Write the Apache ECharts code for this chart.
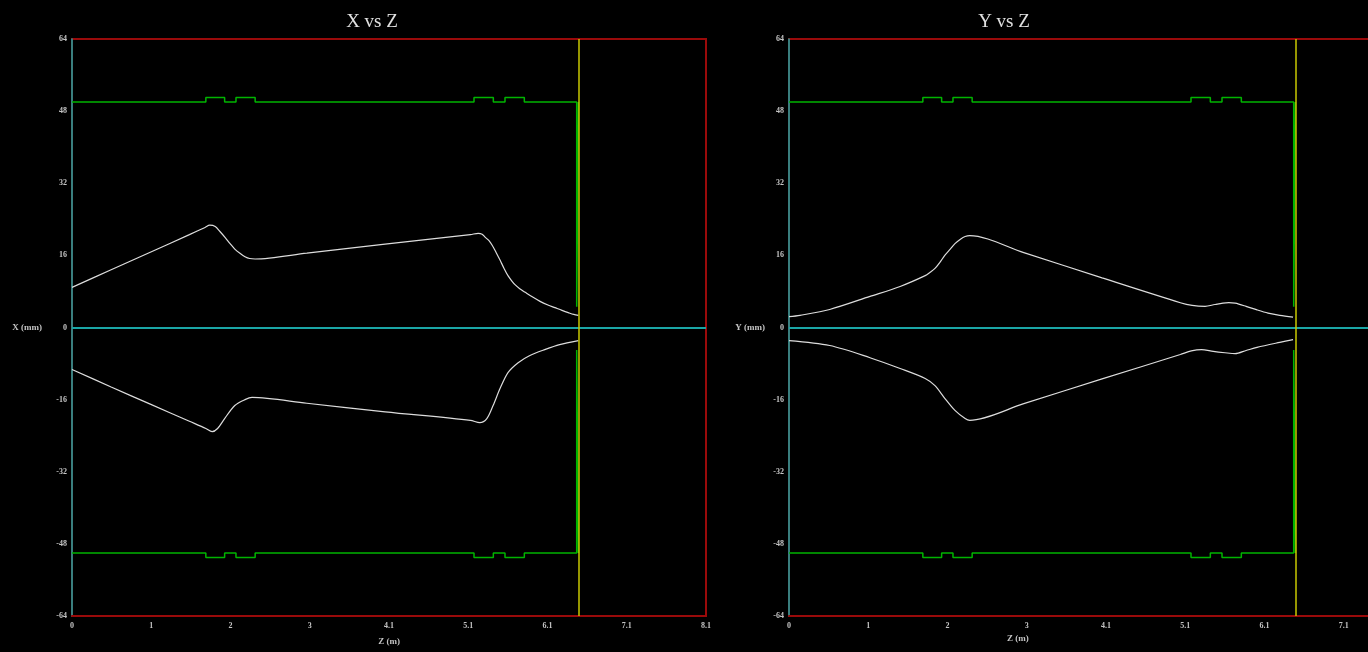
<!DOCTYPE html>
<html>
<head>
<meta charset="utf-8">
<script src="https://cdn.jsdelivr.net/npm/echarts@6/dist/echarts.min.js"></script>
<style>
html,body{margin:0;padding:0;background:#000;}
#chart{width:1368px;height:652px;}
</style>
</head>
<body>
<div id="chart"></div>
<script>
// ---- data ----
const titles = ['X vs Z', 'Y vs Z'];
const yNames = ['X (mm)', 'Y (mm)'];
const xName = 'Z (m)';
const zTickLabels = ['0', '1', '2', '3', '4.1', '5.1', '6.1', '7.1', '8.1'];
const zMax = 8.1;
const screenZ = 6.47; // yellow marker

// aperture (green)
const apertureZ     = [0, 1.71, 1.71, 1.95, 1.95, 2.095, 2.095, 2.34, 2.34, 5.136, 5.136, 5.383, 5.383, 5.532, 5.532, 5.779, 5.779, 6.448, 6.448, 6.47, 6.47];
const apertureUpper = [50, 50, 51, 51, 50, 50, 51, 51, 50, 50, 51, 51, 50, 50, 51, 51, 50, 50, 4.6, 4.6, 50];
const apertureLower = [-50, -50, -51, -51, -50, -50, -51, -51, -50, -50, -51, -51, -50, -50, -51, -51, -50, -50, -5.0, -5.0, -50];

// X envelope
const xUpZ = [0, 0.5, 1.0, 1.5, 1.70, 1.76, 1.83, 1.89, 1.96, 2.02, 2.08, 2.15, 2.21, 2.27, 2.34, 3.0, 4.0, 5.09, 5.19, 5.24, 5.28, 5.33, 5.37, 5.42, 5.47, 5.52, 5.57, 5.62, 5.66, 5.72, 5.79, 5.88, 5.98, 6.08, 6.17, 6.26, 6.34, 6.41, 6.47];
const xUpV = [8.9, 12.8, 16.7, 20.6, 22.2, 22.7, 22.4, 21.3, 19.9, 18.6, 17.4, 16.4, 15.7, 15.3, 15.2, 16.5, 18.5, 20.6, 20.9, 20.7, 20.0, 19.2, 18.2, 16.6, 14.9, 13.1, 11.5, 10.3, 9.5, 8.6, 7.8, 6.8, 5.8, 5.0, 4.4, 3.8, 3.3, 2.9, 2.7];
const xLoZ = [0, 0.5, 1.0, 1.5, 1.71, 1.79, 1.86, 1.95, 2.08, 2.21, 2.30, 3.0, 4.0, 5.09, 5.21, 5.30, 5.38, 5.47, 5.57, 5.70, 5.85, 6.04, 6.23, 6.47];
const xLoV = [-9.3, -13.2, -17.0, -20.8, -22.4, -23.1, -22.4, -20.2, -17.3, -16.0, -15.5, -16.8, -18.7, -20.6, -21.1, -20.2, -17.3, -13.5, -10.0, -7.8, -6.2, -4.9, -3.8, -2.9];

// Y envelope
const yUpZ = [0, 0.14, 0.52, 1.035, 1.42, 1.74, 1.80, 1.865, 1.93, 1.99, 2.06, 2.12, 2.19, 2.25, 2.31, 3.0, 4.0, 5.0, 5.15, 5.315, 5.44, 5.545, 5.62, 5.70, 5.84, 5.98, 6.12, 6.27, 6.44];
const yUpV = [2.4, 2.7, 4.0, 6.9, 9.1, 11.5, 12.2, 13.1, 14.5, 16.0, 17.4, 18.6, 19.6, 20.2, 20.4, 16.6, 11.0, 5.5, 4.9, 4.7, 5.1, 5.4, 5.5, 5.4, 4.7, 3.9, 3.2, 2.7, 2.3];
const yLoZ = [0, 0.52, 1.035, 1.42, 1.74, 1.865, 1.99, 2.12, 2.25, 2.31, 3.0, 4.0, 5.0, 5.14, 5.27, 5.42, 5.57, 5.70, 5.84, 5.98, 6.27, 6.44];
const yLoV = [-2.9, -4.0, -6.7, -9.1, -11.3, -12.9, -15.7, -18.4, -20.2, -20.6, -16.9, -11.4, -6.0, -5.2, -4.9, -5.3, -5.6, -5.8, -5.1, -4.4, -3.3, -2.7];

// ---- chart ----
const zip = (a, b) => a.map((v, i) => [v, b[i]]);
const zInterval = zMax / (zTickLabels.length - 1);

const RED = '#9a0a0a', CYAN = '#1aa6a6', GREEN = '#00b400', YELLOW = '#c8c800', BEAM = '#dcdcdc', LABEL = '#c4c4c4';
const grids = [
  {left: 72, top: 39, width: 634, height: 577},
  {left: 789, top: 39, width: 634, height: 577}
];

const labelFont = {color: LABEL, fontFamily: 'Liberation Serif', fontWeight: 'bold', fontSize: 8};

const xAxes = grids.map((g, i) => ({
  gridIndex: i, type: 'value', min: 0, max: zMax, interval: zInterval,
  axisLine: {onZero: false, lineStyle: {color: RED, width: 2}},
  axisTick: {show: false}, splitLine: {show: false},
  axisLabel: Object.assign({margin: 6, formatter: v => zTickLabels[Math.round(v / zInterval)]}, labelFont),
  name: i === 0 ? xName : '', nameLocation: 'middle', nameGap: 21,
  nameTextStyle: {color: LABEL, fontFamily: 'Liberation Serif', fontWeight: 'bold', fontSize: 9}
}));
const yAxes = grids.map((g, i) => ({
  gridIndex: i, type: 'value', min: -64, max: 64, interval: 16,
  axisLine: {lineStyle: {color: CYAN, width: 1.5}},
  axisTick: {show: false}, splitLine: {show: false},
  axisLabel: Object.assign({margin: 5}, labelFont),
  name: yNames[i], nameLocation: 'middle', nameRotate: 0, nameGap: i === 0 ? 30 : 24,
  nameTextStyle: {color: LABEL, fontFamily: 'Liberation Serif', fontWeight: 'bold', fontSize: 9}
}));

const series = [];
[[xUpZ, xUpV, xLoZ, xLoV], [yUpZ, yUpV, yLoZ, yLoV]].forEach((env, i) => {
  const base = {type: 'line', xAxisIndex: i, yAxisIndex: i, showSymbol: false, silent: true, animation: false};
  series.push(Object.assign({}, base, {
    data: zip(apertureZ, apertureUpper), lineStyle: {color: GREEN, width: 1.5},
    markLine: {silent: true, symbol: 'none', label: {show: false}, animation: false,
      data: [
        {yAxis: 0, lineStyle: {color: CYAN, width: 2, type: 'solid'}},
        {xAxis: screenZ, lineStyle: {color: YELLOW, width: 1.5, type: 'solid'}}
      ]}
  }));
  series.push(Object.assign({}, base, {data: zip(apertureZ, apertureLower), lineStyle: {color: GREEN, width: 1.5}}));
  series.push(Object.assign({}, base, {data: zip(env[0], env[1]), smooth: 0.3, lineStyle: {color: BEAM, width: 1.2}}));
  series.push(Object.assign({}, base, {data: zip(env[2], env[3]), smooth: 0.3, lineStyle: {color: BEAM, width: 1.2}}));
});

const chart = echarts.init(document.getElementById('chart'));
chart.setOption({
  backgroundColor: '#000',
  animation: false,
  title: [
    {text: titles[0], left: 367, top: 8, textAlign: 'center', textStyle: {color: '#e0e0e0', fontFamily: 'Liberation Serif', fontWeight: 'normal', fontSize: 19}},
    {text: titles[1], left: 999, top: 8, textAlign: 'center', textStyle: {color: '#e0e0e0', fontFamily: 'Liberation Serif', fontWeight: 'normal', fontSize: 19}}
  ],
  grid: grids.map(g => Object.assign({show: true, borderColor: RED, borderWidth: 2, backgroundColor: 'transparent', outerBoundsMode: 'none', containLabel: false}, g)),
  xAxis: xAxes,
  yAxis: yAxes,
  graphic: [
    {type: 'text', left: 1007, top: 634, style: {text: xName, fill: LABEL, font: 'bold 9px "Liberation Serif"'}}
  ],
  series: series
});
</script>
</body>
</html>
